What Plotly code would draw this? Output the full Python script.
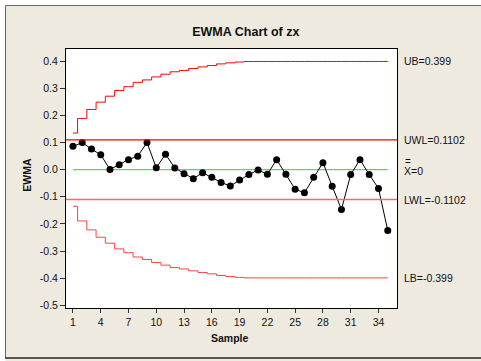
import plotly.graph_objects as go

samples = list(range(1, 36))
ewma = [0.086, 0.100, 0.076, 0.055, 0.001, 0.018, 0.037, 0.050, 0.100, 0.007,
        0.057, 0.006, -0.015, -0.033, -0.011, -0.028, -0.047, -0.060, -0.038, -0.018,
        -0.001, -0.017, 0.037, -0.017, -0.072, -0.085, -0.028, 0.026, -0.061, -0.147,
        -0.018, 0.037, -0.018, -0.069, -0.224]
ub = [0.135, 0.189, 0.222, 0.249, 0.271, 0.292, 0.306, 0.322, 0.331, 0.342,
      0.352, 0.361, 0.366, 0.373, 0.379, 0.384, 0.390, 0.394, 0.397, 0.399,
      0.399, 0.399, 0.399, 0.399, 0.399, 0.399, 0.399, 0.399, 0.399, 0.399,
      0.399, 0.399, 0.399, 0.399, 0.399]
lb = [-0.135, -0.189, -0.222, -0.249, -0.271, -0.292, -0.306, -0.322, -0.331, -0.342,
      -0.352, -0.361, -0.366, -0.373, -0.379, -0.384, -0.390, -0.394, -0.397, -0.399,
      -0.399, -0.399, -0.399, -0.399, -0.399, -0.399, -0.399, -0.399, -0.399, -0.399,
      -0.399, -0.399, -0.399, -0.399, -0.399]
center = [0.0] * 35
uwl = 0.1102
lwl = -0.1102
x_ticks = [1, 4, 7, 10, 13, 16, 19, 22, 25, 28, 31, 34]
y_ticks = [0.4, 0.3, 0.2, 0.1, 0.0, -0.1, -0.2, -0.3, -0.4, -0.5]
y_tick_text = ["0.4", "0.3", "0.2", "0.1", "0.0", "-0.1", "-0.2", "-0.3", "-0.4", "-0.5"]
right_labels = [(0.399, "UB=0.399"), (uwl, "UWL=0.1102"), (lwl, "LWL=-0.1102"), (-0.399, "LB=-0.399")]

FONT = "Liberation Sans, Arial, sans-serif"
FS = 10.5
BEIGE = "#EEEAE0"
TXT = "#111111"

W, H = 481, 361
ML, MR, MT, MB = 66, 84, 49, 53
PW, PH = W - ML - MR, H - MT - MB

def px_x(p):
    return (p - ML) / PW

def px_y(p):
    return (H - MB - p) / PH

fig = go.Figure()
fig.add_trace(go.Scatter(x=samples, y=ub, mode="lines", line=dict(color="#ff0000", width=1, shape="hvh"),
                         hoverinfo="skip"))
fig.add_trace(go.Scatter(x=samples, y=lb, mode="lines", line=dict(color="#ff4040", width=1, shape="hvh"),
                         hoverinfo="skip"))
fig.add_trace(go.Scatter(x=samples, y=center, mode="lines", line=dict(color="#22dd22", width=1),
                         hoverinfo="skip"))
fig.add_trace(go.Scatter(x=samples, y=ewma, mode="lines+markers",
                         line=dict(color="black", width=1),
                         marker=dict(color="black", size=7)))

fig.add_hline(y=uwl, line=dict(color="#ff0000", width=1.2))
fig.add_hline(y=lwl, line=dict(color="#ff6666", width=1.5))

for yv, txt in right_labels:
    fig.add_annotation(x=1, y=yv, xref="paper", yref="y", text=txt, showarrow=False,
                       xanchor="left", yanchor="middle", xshift=5,
                       font=dict(family=FONT, size=FS, color=TXT))
fig.add_annotation(x=1, y=0, xref="paper", yref="y", text="X=0", showarrow=False,
                   xanchor="left", yanchor="middle", xshift=5, yshift=-1,
                   font=dict(family=FONT, size=FS, color=TXT))
fig.add_annotation(x=1, y=0, xref="paper", yref="y", text="=", showarrow=False,
                   xanchor="left", yanchor="middle", xshift=5.5, yshift=8,
                   font=dict(family=FONT, size=10, color=TXT))

# axis titles
fig.add_annotation(x=px_x(26.7), y=px_y(175), xref="paper", yref="paper", text="<b>EWMA</b>",
                   textangle=-90, showarrow=False, xanchor="center", yanchor="middle",
                   font=dict(family=FONT, size=FS, color=TXT))
fig.add_annotation(x=px_x(230), y=px_y(338), xref="paper", yref="paper", text="<b>Sample</b>",
                   showarrow=False, xanchor="center", yanchor="middle",
                   font=dict(family=FONT, size=FS, color=TXT))

# outer frame (white strips + border)
shapes = [
    dict(type="rect", xref="paper", yref="paper", x0=px_x(-2), x1=px_x(5.5), y0=px_y(-2), y1=px_y(H + 2),
         fillcolor="white", line=dict(width=0), layer="above"),
    dict(type="rect", xref="paper", yref="paper", x0=px_x(-2), x1=px_x(W + 2), y0=px_y(-2), y1=px_y(5.5),
         fillcolor="white", line=dict(width=0), layer="above"),
    dict(type="line", xref="paper", yref="paper", x0=px_x(5.5), x1=px_x(5.5), y0=px_y(5.5), y1=px_y(358),
         line=dict(color="#666666", width=1), layer="above"),
    dict(type="line", xref="paper", yref="paper", x0=px_x(5.5), x1=px_x(W + 2), y0=px_y(5.5), y1=px_y(5.5),
         line=dict(color="#666666", width=1), layer="above"),
    dict(type="line", xref="paper", yref="paper", x0=px_x(5), x1=px_x(W + 2), y0=px_y(358), y1=px_y(358),
         line=dict(color="#555555", width=2), layer="above"),
]
for s in shapes:
    fig.add_shape(**s)

fig.update_layout(
    width=W, height=H,
    margin=dict(l=ML, r=MR, t=MT, b=MB, pad=0),
    paper_bgcolor=BEIGE, plot_bgcolor="white",
    showlegend=False,
    font=dict(family=FONT, size=FS, color=TXT),
    title=dict(text="<b>EWMA Chart of zx</b>", x=245.8 / W, xref="container", xanchor="center",
               y=(H - 32) / H, yref="container", yanchor="middle",
               font=dict(family=FONT, size=12.5, color=TXT)),
)
fig.update_xaxes(range=[0.25, 36], tickvals=x_ticks, ticks="outside", ticklen=4, tickcolor="#333",
                 showgrid=False, zeroline=False, showline=True, linecolor="black", linewidth=1, mirror=True,
                 tickfont=dict(family=FONT, size=FS, color=TXT))
fig.update_yaxes(range=[-0.51, 0.445], tickvals=y_ticks, ticktext=y_tick_text, ticks="outside", ticklen=5,
                 tickcolor="#333", showgrid=False, zeroline=False, showline=True, linecolor="black",
                 linewidth=1, mirror=True, tickfont=dict(family=FONT, size=FS, color=TXT))

fig.write_html("out.html")
